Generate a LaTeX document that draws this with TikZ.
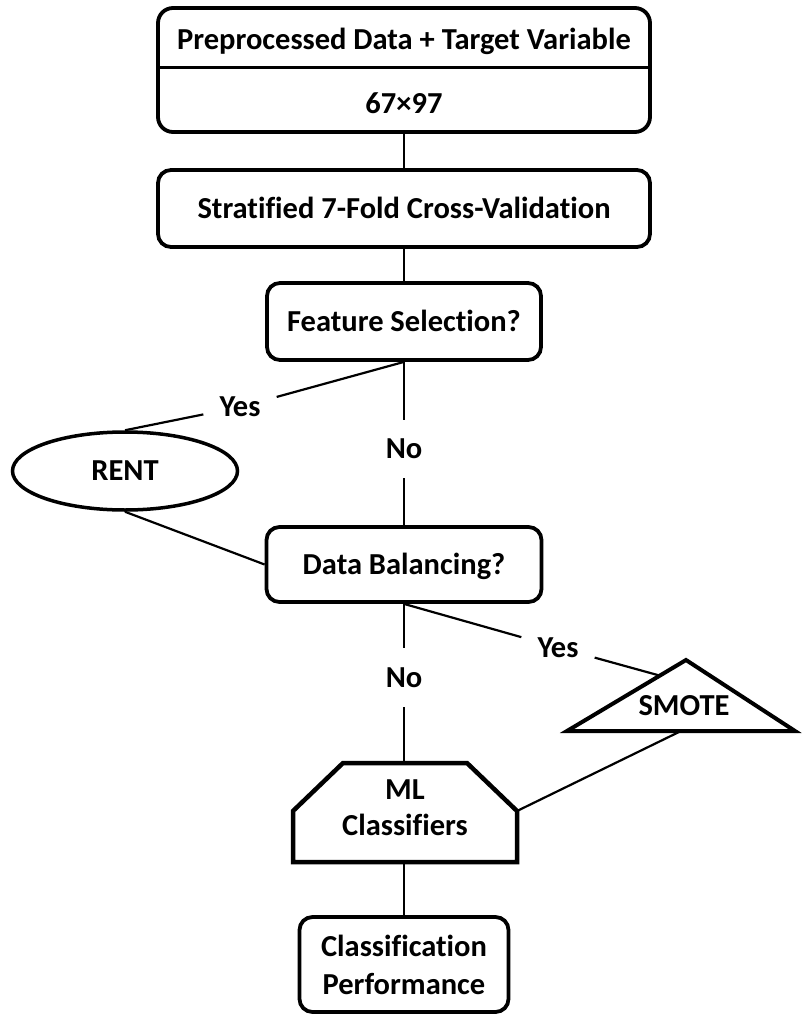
\documentclass[tikz,border=0pt]{standalone}
\usepackage{fontspec}
\setmainfont{Carlito}[Ligatures=NoCommon]
\usetikzlibrary{shapes.geometric,calc}
\begin{document}
\begin{tikzpicture}[x=1pt,y=-1pt,
  every node/.style={inner sep=0pt, font=\fontsize{30.5}{36}\selectfont\bfseries, align=center},
  capt/.style={text height=19.6pt, text depth=0pt},
  box/.style={draw, line width=3.8pt, rounded corners=13pt},
  conn/.style={line width=2.2pt},
  lbl/.style={capt, inner xsep=16pt, inner ysep=4pt},
  nolbl/.style={capt, inner xsep=6pt},
]
\useasboundingbox (0,0) rectangle (805,1014);

% top split box
\node[box, rounded corners=15pt, minimum width=492pt, minimum height=124pt] (b1) at (404,70) {};
\coordinate (divL) at (158,68);
\coordinate (divR) at (650,68);
\draw[line width=3pt] (divL) -- (divR);
\node[capt] (t1) at (404,39.5) {Preprocessed Data + Target Variable};
\node[capt] (t2) at (404,104) {67×97};

\node[box, capt, minimum width=492pt, minimum height=77pt] (b2) at (404,208.5) {Stratified 7-Fold Cross-Validation};
\node[box, capt, minimum width=274pt, minimum height=77pt] (fs) at (404,321.5) {Feature Selection?};
\node[draw, ellipse, line width=3.5pt, capt, minimum width=225pt, minimum height=78pt] (rent) at (125,471) {RENT};
\node[box, capt, minimum width=275pt, minimum height=75pt] (db) at (404,564.5) {Data Balancing?};

\node[lbl] (yes1) at (240,407) {Yes};
\node[nolbl, minimum height=58pt] (no1) at (404,449) {No};
\node[lbl] (yes2) at (558,647.5) {Yes};
\node[nolbl, minimum height=59pt] (no2) at (404,677.5) {No};

% SMOTE triangle
\coordinate (smA) at (686,660);
\coordinate (smB) at (567,731);
\coordinate (smC) at (795,731);
\draw[line width=4pt, line join=miter] (smA) -- (smB) -- (smC) -- cycle;
\node[capt] (smote) at (684,705.5) {SMOTE};
\coordinate (smIn) at ($(smB)!0.78!(smA)$);
\coordinate (smOut) at ($(smB)!0.5!(smC)$);

% ML classifiers shape
\coordinate (mlTL) at (343,763);
\coordinate (mlTR) at (467,763);
\coordinate (mlR) at (517,811);
\coordinate (mlBR) at (517,862);
\coordinate (mlBL) at (293,862);
\coordinate (mlL) at (293,811);
\draw[line width=4.5pt, line join=miter] (mlTL) -- (mlTR) -- (mlR) -- (mlBR) -- (mlBL) -- (mlL) -- cycle;
\node (ml) at (405,808) {ML\\Classifiers};
\coordinate (mlT) at (404,763);
\coordinate (mlB) at (404,862);

\node[box, minimum width=209pt, minimum height=95pt, font=\fontsize{30.5}{38}\selectfont\bfseries] (cp) at (404,964.5) {Classification\\Performance};

% connectors
\draw[conn] (b1.south) -- (b2.north);
\draw[conn] (b2.south) -- (fs.north);
\draw[conn] (fs.south) -- (no1);
\draw[conn] (no1) -- (db.north);
\draw[conn] (fs.south) -- (yes1);
\draw[conn] (yes1) -- (rent.north);
\draw[conn] (rent.south) -- (db.west);
\draw[conn] (db.south) -- (no2);
\draw[conn] (no2) -- (mlT);
\draw[conn] (db.south) -- (yes2);
\draw[conn] (yes2) -- (smIn);
\draw[conn] (smOut) -- (mlR);
\draw[conn] (mlB) -- (cp.north);
\end{tikzpicture}
\end{document}
